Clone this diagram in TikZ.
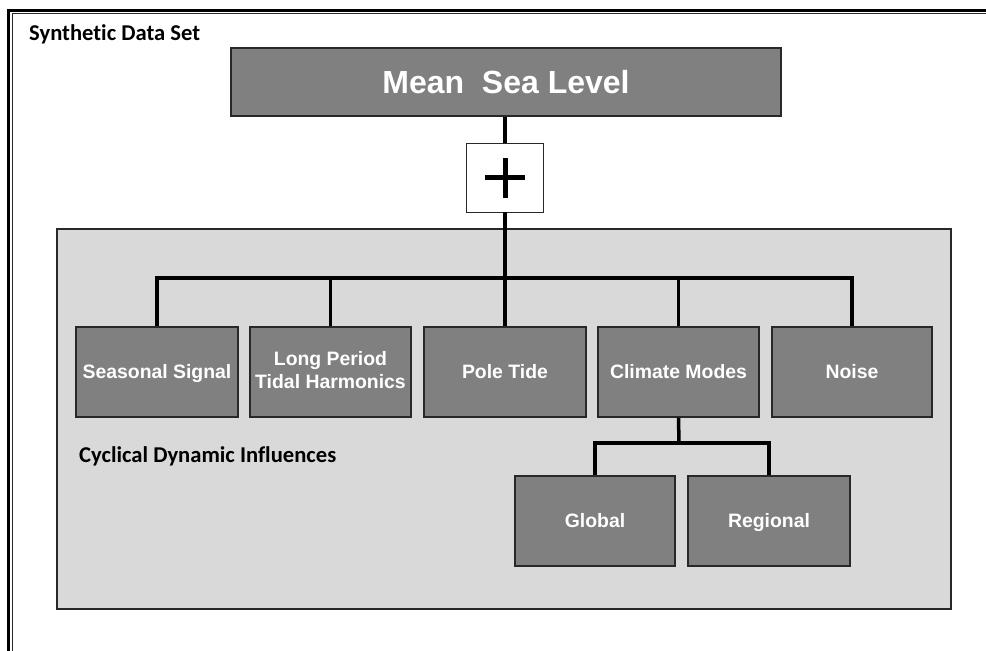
\documentclass[tikz,border=0pt]{standalone}
\usepackage{fontspec}
\setmainfont{Liberation Sans}
\newfontfamily\calfont[Ligatures=NoCommon]{Carlito}
\newcommand{\capstrut}{\rule[-0.234em]{0pt}{1.184em}}
\definecolor{boxgray}{RGB}{128,128,128}
\definecolor{panelgray}{RGB}{217,217,217}
\definecolor{edgegray}{RGB}{40,40,40}
\tikzset{
  compbox/.style={draw=edgegray, line width=1.2pt, fill=boxgray, text=white,
    font=\fontsize{19.4}{23.5}\selectfont\bfseries, align=center,
    minimum width=161pt, minimum height=90pt, inner sep=0pt,
    execute at begin node=\capstrut, execute at end node=\capstrut},
  headbox/.style={compbox, font=\fontsize{32}{36}\selectfont\bfseries,
    minimum width=550pt, minimum height=68pt},
  sumbox/.style={draw=edgegray, line width=0.9pt, fill=white,
    minimum width=77pt, minimum height=69pt, inner sep=0pt},
  caption/.style={anchor=base west, inner sep=0pt,
    font=\calfont\fontsize{22.6}{26}\selectfont\bfseries},
  link/.style={line width=3.5pt, black},
}
\begin{document}
\begin{tikzpicture}[x=1pt,y=-1pt]
\useasboundingbox (0,0) rectangle (986,651);

% Frame
\draw [line width=3.4pt, line join=miter] (8.7,651) -- (8.7,10.5) -- (986,10.5);%
\draw [line width=0.9pt, edgegray] (12.3,651) -- (12.3,13.4) -- (986,13.4);%
\node [caption] (title) at (29,40) {Synthetic Data Set};%

% Background panel
\node [draw=edgegray, line width=1.2pt, fill=panelgray, minimum width=894pt,
  minimum height=380pt, inner sep=0pt] (panel) at (504,419) {};%
\node [caption] (cyclic) at (79,462) {Cyclical Dynamic Influences};%

% Top box and sum
\node [headbox] (msl) at (506,82) {Mean\ \ Sea Level};%
\node [sumbox] (plus) at (505,177.5) {};%
\draw [line width=5pt] ([xshift=-20pt]plus.center) -- ([xshift=20pt]plus.center);%
\draw [line width=5pt] ([yshift=-20pt]plus.center) -- ([yshift=20pt]plus.center);%

% Components
\node [compbox, minimum width=162pt] (seasonal) at (157,372) {Seasonal Signal};%
\node [compbox] (tidal) at (330.5,372) {Long Period\\Tidal Harmonics};%
\node [compbox, minimum width=162pt] (pole) at (505,372) {Pole Tide};%
\node [compbox] (climate) at (678.5,372) {Climate Modes};%
\node [compbox, minimum width=160pt] (noise) at (852,372) {Noise};%
\node [compbox, minimum width=160pt] (global) at (595,521) {Global};%
\node [compbox, minimum width=162pt] (regional) at (769,521) {Regional};%

% Connectors
\coordinate (bar) at (505,278);%
\coordinate (subbar) at (679,443);%
\draw [link] (plus.north) -- (plus.north |- msl.south);%
\draw [link] (plus.south) -- (bar);%
\draw [link] (seasonal.north) |- (noise.north |- bar) -- (noise.north);%
\draw [link] (tidal.north) -- (tidal.north |- bar);%
\draw [link] (pole.north) -- (pole.north |- bar);%
\draw [link] (climate.north) -- (climate.north |- bar);%
\draw [link] (climate.south) -- (subbar);%
\draw [link] (global.north) |- (regional.north |- subbar) -- (regional.north);%
\end{tikzpicture}
\end{document}
